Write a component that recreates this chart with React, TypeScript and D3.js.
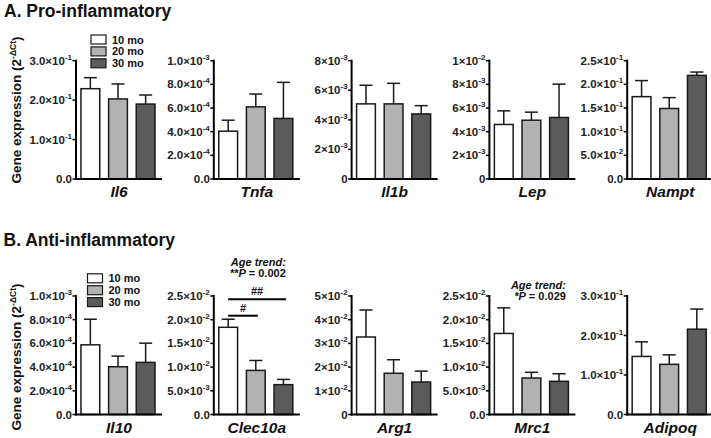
import React from 'react';
import * as d3 from 'd3';

// age groups / legend
const ageGroups = ['10 mo', '20 mo', '30 mo'];
const ageFills = ['#ffffff', '#b2b2b2', '#5b5b5b'];

// A. Pro-inflammatory
const proGenes = ['Il6', 'Tnfa', 'Il1b', 'Lep', 'Nampt'];
const proMean10 = [0.229, 4.04e-4, 5.08e-3, 4.61e-3, 0.174];
const proMean20 = [0.203, 6.1e-4, 5.08e-3, 4.97e-3, 0.149];
const proMean30 = [0.19, 5.12e-4, 4.4e-3, 5.2e-3, 0.219];
const proSem10 = [0.028, 0.93e-4, 1.26e-3, 1.15e-3, 0.034];
const proSem20 = [0.038, 1.08e-4, 1.39e-3, 0.68e-3, 0.023];
const proSem30 = [0.023, 3.05e-4, 0.56e-3, 2.82e-3, 0.007];
const proTicks = [
  [0, 0.1, 0.2, 0.3],
  [0, 2e-4, 4e-4, 6e-4, 8e-4, 1e-3],
  [0, 2e-3, 4e-3, 6e-3, 8e-3],
  [0, 2e-3, 4e-3, 6e-3, 8e-3, 1e-2],
  [0, 0.05, 0.1, 0.15, 0.2, 0.25],
];
const proDecimals = [1, 1, 0, 0, 1];

// B. Anti-inflammatory
const antiGenes = ['Il10', 'Clec10a', 'Arg1', 'Mrc1', 'Adipoq'];
const antiMean10 = [5.88e-4, 0.0184, 0.0327, 0.0171, 0.147];
const antiMean20 = [4.03e-4, 0.0093, 0.0174, 0.0077, 0.127];
const antiMean30 = [4.4e-4, 0.0063, 0.0137, 0.007, 0.216];
const antiSem10 = [2.16e-4, 0.0017, 0.0114, 0.0054, 0.037];
const antiSem20 = [0.9e-4, 0.0021, 0.0057, 0.0012, 0.024];
const antiSem30 = [1.62e-4, 0.0011, 0.0046, 0.0016, 0.051];
const antiTicks = [
  [0, 2e-4, 4e-4, 6e-4, 8e-4, 1e-3],
  [0, 5e-3, 1e-2, 1.5e-2, 2e-2, 2.5e-2],
  [0, 1e-2, 2e-2, 3e-2, 4e-2, 5e-2],
  [0, 5e-3, 1e-2, 1.5e-2, 2e-2, 2.5e-2],
  [0, 0.1, 0.2, 0.3],
];
const antiDecimals = [1, 1, 0, 1, 1];

// Clec10a post-hoc comparisons and trend notes
const sigComparisons = [
  { gene: 'Clec10a', from: 0, to: 2, label: '##' },
  { gene: 'Clec10a', from: 0, to: 1, label: '#' },
];
const trendNotes = [
  { gene: 'Clec10a', stars: '**', p: '0.002' },
  { gene: 'Mrc1', stars: '*', p: '0.029' },
];

const FONT = '"Liberation Sans", Arial, sans-serif';
const W = 711;
const H = 438;
const colX = (i: number) => 76 + i * 137.8;
const PANEL_W = 85;

function tickLabel(v: number, dec: number) {
  if (v === 0) return { mant: dec ? '0.0' : '0', exp: '' };
  const [m, e] = v.toExponential(dec).split('e');
  return { mant: m + '\u00d710', exp: String(parseInt(e, 10)) };
}

type PanelProps = {
  gene: string;
  means: number[];
  sems: number[];
  ticks: number[];
  dec: number;
  ax: number;
  yTop: number;
  yBot: number;
  children?: (x: d3.ScaleBand<string>, y: d3.ScaleLinear<number, number>) => React.ReactNode;
};

function Panel({ gene, means, sems, ticks, dec, ax, yTop, yBot, children }: PanelProps) {
  const y = d3.scaleLinear().domain([0, d3.max(ticks) as number]).range([yBot, yTop]);
  const x = d3
    .scaleBand()
    .domain(ageGroups)
    .range([ax, ax + 84])
    .paddingInner(0.32)
    .paddingOuter(0.18);
  const bw = x.bandwidth();
  return (
    <g>
      {ageGroups.map((a, i) => {
        const cx = (x(a) as number) + bw / 2;
        const top = y(means[i] + sems[i]);
        return (
          <g key={a}>
            <line x1={cx} x2={cx} y1={y(means[i])} y2={top} stroke="#1a1a1a" strokeWidth={1.5} />
            <line x1={cx - 6.5} x2={cx + 6.5} y1={top} y2={top} stroke="#1a1a1a" strokeWidth={1.5} />
            <rect
              x={x(a)}
              y={y(means[i])}
              width={bw}
              height={yBot - y(means[i])}
              fill={ageFills[i]}
              stroke="#1a1a1a"
              strokeWidth={1.5}
            />
          </g>
        );
      })}
      <line x1={ax} x2={ax} y1={yTop - 1} y2={yBot + 1} stroke="#000" strokeWidth={2} />
      <line x1={ax - 1} x2={ax + 86} y1={yBot} y2={yBot} stroke="#000" strokeWidth={2} />
      {ticks.map((t) => {
        const { mant, exp } = tickLabel(t, dec);
        return (
          <g key={t}>
            <line x1={ax - 3.5} x2={ax} y1={y(t)} y2={y(t)} stroke="#000" strokeWidth={1.5} />
            <text
              x={ax - 4}
              y={y(t) + 4}
              textAnchor="end"
              fontSize={11.5}
              fontWeight="bold"
              fill="#222"
            >
              {mant}
              {exp && (
                <tspan dy={-5} fontSize={8}>
                  {exp}
                </tspan>
              )}
            </text>
          </g>
        );
      })}
      <text
        x={ax + 43}
        y={yBot + 18}
        textAnchor="middle"
        fontSize={15.5}
        fontWeight="bold"
        fontStyle="italic"
        fill="#111"
      >
        {gene}
      </text>
      {children && children(x, y)}
    </g>
  );
}

function Legend({ x, y }: { x: number; y: number }) {
  return (
    <g>
      {ageGroups.map((a, i) => (
        <g key={a}>
          <rect
            x={x}
            y={y + i * 11.9 - 4.5}
            width={15}
            height={9}
            fill={ageFills[i]}
            stroke="#1a1a1a"
            strokeWidth={1.2}
          />
          <text x={x + 21} y={y + i * 11.9 + 4} fontSize={11} fontWeight="bold" fill="#111">
            {a}
          </text>
        </g>
      ))}
    </g>
  );
}

function YLabel({ cy }: { cy: number }) {
  return (
    <text
      transform={`translate(20.5, ${cy}) rotate(-90)`}
      textAnchor="middle"
      fontSize={13.5}
      fontWeight="bold"
      fill="#111"
    >
      Gene expression (2
      <tspan dy={-5} fontSize={8.5}>
        -ΔCt
      </tspan>
      <tspan dy={5}>)</tspan>
    </text>
  );
}

export default function App() {
  const proRows = proGenes.map((g, i) => ({
    gene: g,
    means: [proMean10[i], proMean20[i], proMean30[i]],
    sems: [proSem10[i], proSem20[i], proSem30[i]],
    ticks: proTicks[i],
    dec: proDecimals[i],
  }));
  const antiRows = antiGenes.map((g, i) => ({
    gene: g,
    means: [antiMean10[i], antiMean20[i], antiMean30[i]],
    sems: [antiSem10[i], antiSem20[i], antiSem30[i]],
    ticks: antiTicks[i],
    dec: antiDecimals[i],
  }));

  // where the trend notes sit relative to their panel
  const trendPos: Record<string, { dx: number; y: number }> = {
    Clec10a: { dx: 72, y: 265.7 },
    Mrc1: { dx: 76.5, y: 288.5 },
  };

  return (
    <svg
      width={W}
      height={H}
      style={{ position: 'absolute', left: 0, top: 0, background: '#fff' }}
      fontFamily={FONT}
    >
      <rect width={W} height={H} fill="#fff" />
      <text x={4} y={16.7} fontSize={17.5} fontWeight="bold" fill="#111">
        A. Pro-inflammatory
      </text>
      <text x={3.5} y={246} fontSize={17.5} fontWeight="bold" fill="#111">
        B. Anti-inflammatory
      </text>
      <YLabel cy={110} />
      <YLabel cy={357} />
      {proRows.map((r, i) => (
        <Panel key={r.gene} {...r} ax={colX(i)} yTop={60.7} yBot={179} />
      ))}
      {antiRows.map((r, i) => (
        <Panel key={r.gene} {...r} ax={colX(i)} yTop={296} yBot={414.5}>
          {(x, y) => (
            <g>
              {sigComparisons
                .filter((s) => s.gene === r.gene)
                .map((s, k) => {
                  const bw = x.bandwidth();
                  const x1 = (x(ageGroups[s.from]) as number) + bw / 2;
                  const x2 = (x(ageGroups[s.to]) as number) + bw / 2 + (s.to === 2 ? 2.5 : 2);
                  const ly = 299.3 + k * 16.4;
                  return (
                    <g key={s.label}>
                      <line x1={x1} x2={x2} y1={ly} y2={ly} stroke="#000" strokeWidth={2} />
                      <text
                        x={(x1 + x2) / 2}
                        y={ly - 4}
                        textAnchor="middle"
                        fontSize={11}
                        fontWeight="bold"
                        fill="#111"
                      >
                        {s.label}
                      </text>
                    </g>
                  );
                })}
              {trendNotes
                .filter((t) => t.gene === r.gene)
                .map((t) => {
                  const pos = trendPos[t.gene];
                  const tx = colX(i) + pos.dx;
                  return (
                    <g key={t.gene} fontSize={11} fontWeight="bold" fill="#111">
                      <text x={tx} y={pos.y} textAnchor="end" fontStyle="italic">
                        Age trend:
                      </text>
                      <text x={tx} y={pos.y + 11.5} textAnchor="end">
                        <tspan fontStyle="italic">{t.stars}P</tspan>
                        {' = ' + t.p}
                      </text>
                    </g>
                  );
                })}
            </g>
          )}
        </Panel>
      ))}
      <Legend x={91} y={39.5} />
      <Legend x={87.5} y={278.3} />
    </svg>
  );
}
